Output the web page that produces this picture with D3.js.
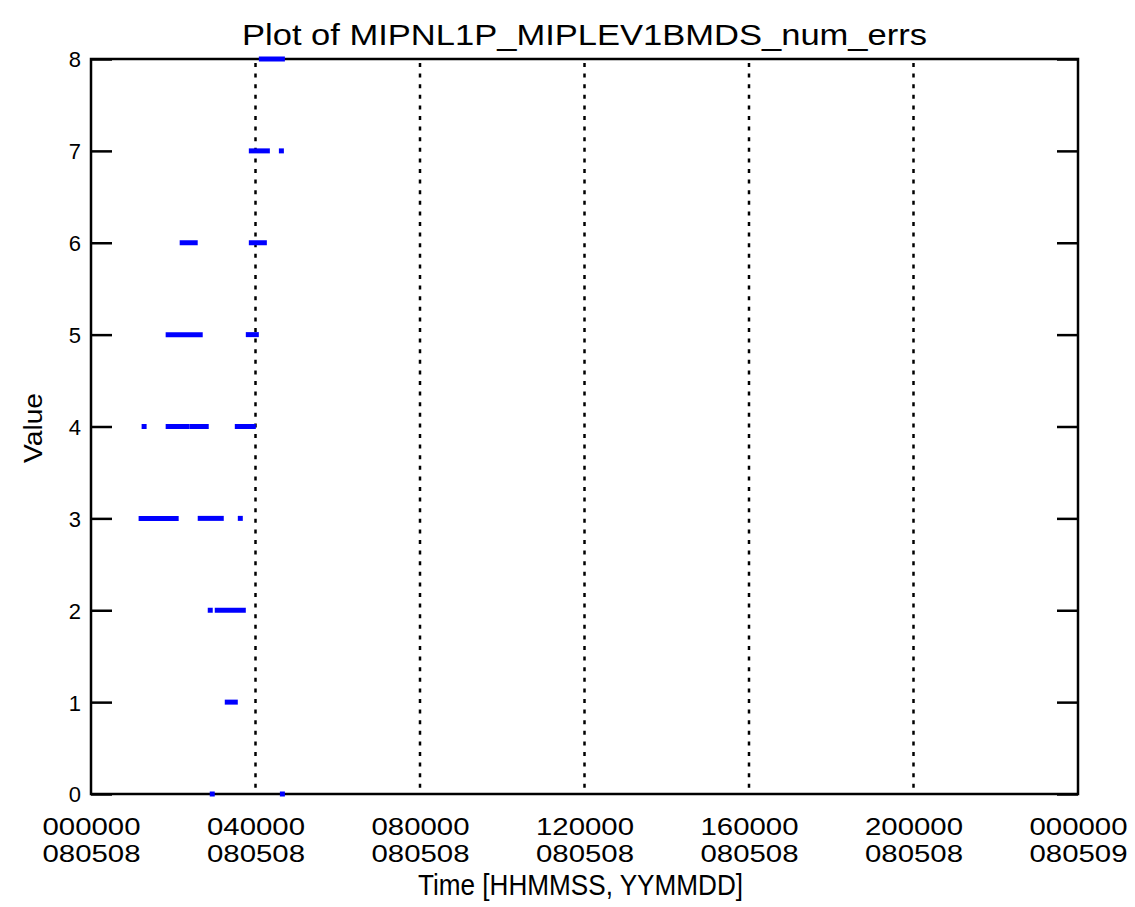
<!DOCTYPE html>
<html>
<head>
<meta charset="utf-8">
<script src="https://cdn.jsdelivr.net/npm/d3@7"></script>
<style>
  html, body { margin: 0; padding: 0; background: #fff; }
  svg { display: block; }
  text { font-family: "Liberation Sans", "DejaVu Sans", sans-serif; fill: #000; }
</style>
</head>
<body>
<svg id="chart" width="1135" height="907"></svg>
<script>
// ---- Data (runs of consecutive samples at the same value) ----
const runValues = [8, 7, 7, 6, 6, 5, 5, 4, 4, 4, 4, 3, 3, 3, 2, 2, 1, 0, 0];
const runStarts = ["040832", "035355", "043746", "021302", "035355", "015234", "034931",
                   "011729", "015234", "022739", "033327", "011306", "023921", "033750",
                   "025358", "030412", "031849", "025654", "043914"];
const runEnds   = ["043914", "041718", "043746", "023202", "041255", "023921", "040113",
                   "011729", "022021", "024807", "035650", "020416", "031003", "033750",
                   "025358", "034213", "033031", "025654", "043914"];

const xTickSeconds = [0, 14400, 28800, 43200, 57600, 72000, 86400];
const xTickTimes   = ["000000", "040000", "080000", "120000", "160000", "200000", "000000"];
const xTickDates   = ["080508", "080508", "080508", "080508", "080508", "080508", "080509"];
const gridSeconds  = [14400, 28800, 43200, 57600, 72000];
const yTicks       = [0, 1, 2, 3, 4, 5, 6, 7, 8];

const titleText  = "Plot of MIPNL1P_MIPLEV1BMDS_num_errs";
const xLabelText = "Time [HHMMSS, YYMMDD]";
const yLabelText = "Value";

// ---- Layout ----
const L = 91, R = 1078, T = 59, B = 794;
const svg = d3.select("#chart");

const x = d3.scaleLinear().domain([0, 86400]).range([L, R]);
const y = d3.scaleLinear().domain([0, 8]).range([B, T]);

const toSec = s => (+s.slice(0, 2)) * 3600 + (+s.slice(2, 4)) * 60 + (+s.slice(4, 6));

// grid (dotted verticals)
svg.append("g").selectAll("line").data(gridSeconds).join("line")
  .attr("x1", d => x(d)).attr("x2", d => x(d))
  .attr("y1", T + 4).attr("y2", B - 2)
  .attr("stroke", "#000").attr("stroke-width", 2.5)
  .attr("stroke-dasharray", "4,6.6");

// y axes (ticks pointing inward)
const yLeft = svg.append("g").attr("transform", `translate(${L},0)`)
  .call(d3.axisLeft(y).tickValues(yTicks).tickSize(-21).tickPadding(10).tickFormat(d3.format("d")));
yLeft.select(".domain").remove();
yLeft.selectAll(".tick line").attr("stroke", "#000").attr("stroke-width", 2.5);
yLeft.selectAll(".tick text").attr("font-size", 22).attr("font-family", "Liberation Sans")
  .attr("dy", "0.36em");

const yRight = svg.append("g").attr("transform", `translate(${R},0)`)
  .call(d3.axisRight(y).tickValues(yTicks).tickSize(-21).tickFormat(""));
yRight.select(".domain").remove();
yRight.selectAll(".tick line").attr("stroke", "#000").attr("stroke-width", 2.5);

// x axis labels (two lines)
const xAxis = svg.append("g").attr("transform", `translate(0,${B})`)
  .call(d3.axisBottom(x).tickValues(xTickSeconds).tickSize(0).tickFormat(""));
xAxis.select(".domain").remove();
xAxis.selectAll(".tick").each(function(d, i) {
  const g = d3.select(this);
  g.append("text").attr("y", 41).attr("text-anchor", "middle")
    .attr("font-size", 24).attr("textLength", 98).attr("lengthAdjust", "spacingAndGlyphs")
    .text(xTickTimes[i]);
  g.append("text").attr("y", 68).attr("text-anchor", "middle")
    .attr("font-size", 24).attr("textLength", 98).attr("lengthAdjust", "spacingAndGlyphs")
    .text(xTickDates[i]);
});

// frame
svg.append("rect").attr("x", L).attr("y", T).attr("width", R - L).attr("height", B - T)
  .attr("fill", "none").attr("stroke", "#000").attr("stroke-width", 2.5);

// data runs
const runs = runValues.map((v, i) => ({ v, s: toSec(runStarts[i]), e: toSec(runEnds[i]) }));
svg.append("g").selectAll("line").data(runs).join("line")
  .attr("x1", d => x(d.s)).attr("x2", d => x(d.e))
  .attr("y1", d => y(d.v)).attr("y2", d => y(d.v))
  .attr("stroke", "#0000ff").attr("stroke-width", 5).attr("stroke-linecap", "square");

// title and axis labels
svg.append("text").attr("x", (L + R) / 2).attr("y", 45).attr("text-anchor", "middle")
  .attr("font-size", 29).attr("textLength", 685).attr("lengthAdjust", "spacingAndGlyphs")
  .text(titleText);

svg.append("text").attr("x", (L + R) / 2 - 4).attr("y", 895).attr("text-anchor", "middle")
  .attr("font-size", 29).attr("textLength", 325).attr("lengthAdjust", "spacingAndGlyphs")
  .text(xLabelText);

svg.append("text").attr("transform", "translate(42,428) rotate(-90)").attr("text-anchor", "middle")
  .attr("font-size", 26).attr("textLength", 70).attr("lengthAdjust", "spacingAndGlyphs")
  .text(yLabelText);
</script>
</body>
</html>
